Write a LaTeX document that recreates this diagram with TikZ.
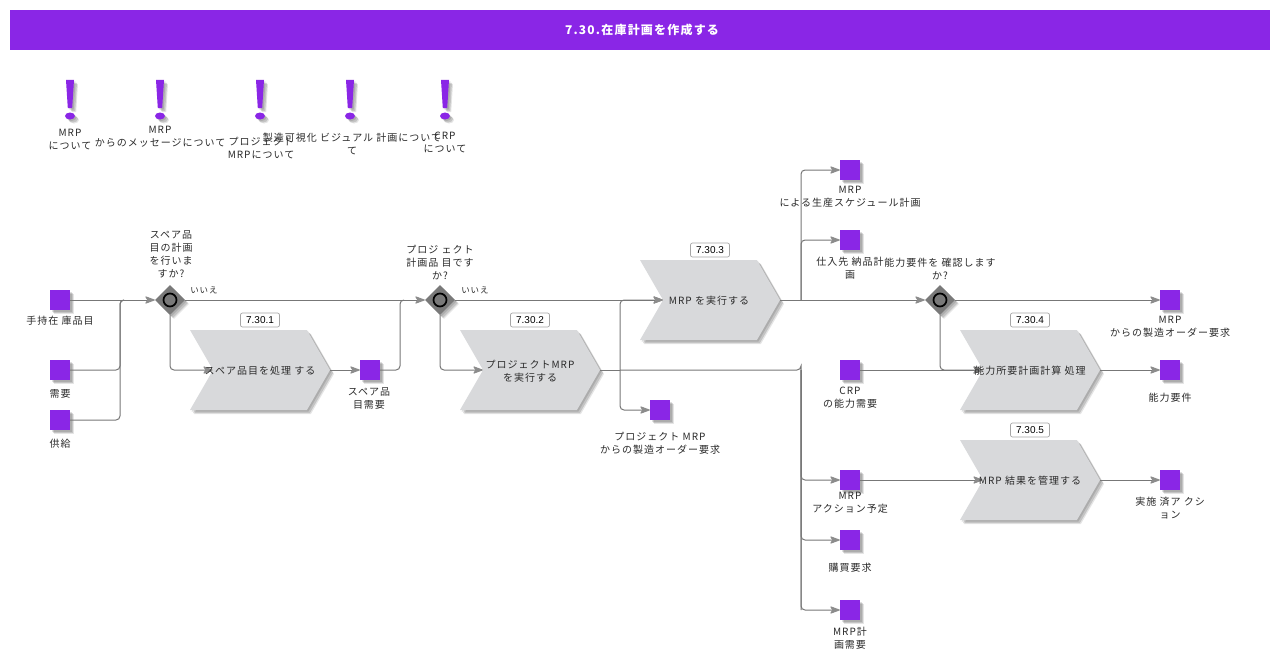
\documentclass[tikz,border=0pt]{standalone}
\usepackage{fontspec}
\setmainfont[LetterSpace=10]{Noto Sans CJK JP}
\newfontfamily\vernum{Liberation Sans}
\usetikzlibrary{arrows.meta,shadows,shapes.symbols,shapes.geometric}
\definecolor{pur}{HTML}{8A26E6}
\definecolor{chv}{HTML}{D8D9DB}
\definecolor{lin}{HTML}{777777}
\definecolor{txt}{HTML}{2A2A2A}
\tikzset{
 soft/.style={drop shadow={shadow xshift=1.5pt,shadow yshift=-1.5pt,fill=black,opacity=.12},
              drop shadow={shadow xshift=3pt,shadow yshift=-3pt,fill=black,opacity=.14},
              drop shadow={shadow xshift=4pt,shadow yshift=-4pt,fill=black,opacity=.1}},
 sq/.style={rectangle,fill=pur,minimum size=20pt,inner sep=0,soft},
 gate/.style={diamond,fill=gray!95!black,minimum width=30pt,minimum height=30pt,inner sep=0,soft},
 ring/.style={circle,draw=black,line width=1.7pt,fill=gray!95!black,minimum size=13pt,inner sep=0},
 chev/.style={signal,signal from=west,signal to=east,signal pointer angle=120,fill=chv,
   minimum width=140pt,minimum height=80pt,inner sep=0,soft},
 lbl/.style={inner sep=0,yshift=-.7pt,text=txt,font=\fontsize{10pt}{13pt}\selectfont,align=center},
 small/.style={inner sep=0,text=txt,font=\fontsize{8.5pt}{9pt}\selectfont},
 ver/.style={rectangle,rounded corners=2pt,draw=gray!70,fill=white,line width=.7pt,minimum width=39pt,
   minimum height=14pt,inner sep=0,font=\vernum\fontsize{10pt}{12pt}\selectfont},
 conn/.style={draw=lin,line width=1pt,rounded corners=4pt},
 arr/.style={conn,-{Stealth[length=11pt,width=8pt,inset=2.5pt,fill=gray!90,color=gray!90,round=false]}},
 excl/.style={fill=pur,soft},
}
\newcommand{\exclam}[1]{%
 \path[excl] (#1-4,80) -- (#1+4,80) -- (#1+2.2,108) -- (#1-2.2,108) -- cycle;
 \path[excl] (#1,116) ellipse [x radius=5,y radius=3.5];}
\begin{document}
\begin{tikzpicture}[x=1pt,y=-1pt]
\useasboundingbox (0,0) rectangle (1280,661);
\path[fill=white] (0,0) rectangle (1280,661);
\node[rectangle,fill=pur,minimum width=1260pt,minimum height=40pt,inner sep=0,text=white,
  font=\fontsize{12pt}{14pt}\selectfont\bfseries] (title) at (640,30) {\hspace{4pt}7.30.在庫計画を作成する};
% exclamation marks
\exclam{70}\exclam{160}\exclam{260}\exclam{350}\exclam{445}
\node[lbl] (e1) at (70,139) {MRP\\について};
\node[lbl] (e2) at (160,136.5) {MRP\\からのメッセージについて};
\node[lbl] (e3) at (261,147) {プロジェクト\\MRPについて};
\node[lbl] (e4) at (352,143) {製造可視化 ビジュアル 計画について\\て};
\node[lbl] (e5) at (445,141.5) {CRP\\について};
% chevrons
\node[chev] (c1) at (260,370) {};
\node[chev] (c2) at (530,370) {};
\node[chev] (c3) at (710,300) {};
\node[chev] (c4) at (1030,370) {};
\node[chev] (c5) at (1030,480) {};
\node[ver] (v1) at (260,320) {7.30.1};
\node[ver] (v2) at (530,320) {7.30.2};
\node[ver] (v3) at (710,250) {7.30.3};
\node[ver] (v4) at (1030,320) {7.30.4};
\node[ver] (v5) at (1030,430) {7.30.5};
% squares
\node[sq] (stock) at (60,300) {};
\node[sq] (dem) at (60,370) {};
\node[sq] (sup) at (60,420) {};
\node[sq] (spare) at (370,370) {};
\node[sq] (porder) at (660,410) {};
\node[sq] (sched) at (850,170) {};
\node[sq] (vend) at (850,240) {};
\node[sq] (crp) at (850,370) {};
\node[sq] (act) at (850,480) {};
\node[sq] (buy) at (850,540) {};
\node[sq] (plan) at (850,610) {};
\node[sq] (morder) at (1170,300) {};
\node[sq] (cap) at (1170,370) {};
\node[sq] (done) at (1170,480) {};
% gateways
\node[gate] (g1) at (170,300) {};
\node[gate] (g2) at (440,300) {};
\node[gate] (g3) at (940,300) {};
\node[ring] (r1) at (170,300) {};
\node[ring] (r2) at (440,300) {};
\node[ring] (r3) at (940,300) {};
% junctions
\coordinate (j1) at (120,300);
\coordinate (j2) at (400,300);
\coordinate (j3) at (620,370);
\coordinate (bt) at (801,300);
\coordinate (bb) at (801,370);
% connectors
\draw[arr] (stock.east) -- (g1.west);
\draw[conn] (dem.east) -| (j1) -- ++(4,0);
\draw[conn] (sup.east) -| (j1) -- ++(4,0);
\draw[arr] (g1.east) -- (g2.west);
\draw[arr] (g1.south) |- (c1.west);
\draw[arr] (c1.east) -- (spare.west);
\draw[conn] (spare.east) -| (j2) -- ++(4,0);
\draw[arr] (g2.east) -- (c3.west);
\draw[arr] (g2.south) |- (c2.west);
\draw[conn] (c2.east) -- (j3);
\draw[arr] (j3) |- (c3.west);
\draw[arr] (j3) |- (porder.west);
\draw[arr] (c3.east) -- (g3.west);
\draw[arr] (bt) |- (sched.west);
\draw[arr] (bt) |- (vend.west);
\draw[conn] (j3) -| (bb) -- (801,610);
\draw[arr] (bb) |- (act.west);
\draw[arr] (bb) |- (buy.west);
\draw[arr] (bb) |- (plan.west);
\draw[arr] (g3.east) -- (morder.west);
\draw[arr] (g3.south) |- (c4.west);
\draw[arr] (crp.east) -- (c4.west);
\draw[arr] (c4.east) -- (cap.west);
\draw[arr] (act.east) -- (c5.west);
\draw[arr] (c5.east) -- (done.west);
% labels
\node[lbl] (t1) at (260,370) {スペア品目を処理 する};
\node[lbl] (t2) at (530,370.5) {プロジェクトMRP\\を実行する};
\node[lbl] (t3) at (709,300) {MRP を実行する};
\node[lbl] (t4) at (1030,370) {能力所要計画計算 処理};
\node[lbl] (t5) at (1030,480) {MRP 結果を管理する};
\node[lbl] (l1) at (60,320) {手持在 庫品目};
\node[lbl] (l2) at (60,393) {需要};
\node[lbl] (l3) at (60,443) {供給};
\node[lbl] (l4) at (171,254) {スペア品\\目の計画\\を行いま\\すか?};
\node[small] (n1) at (204,290) {いいえ};
\node[lbl] (l5) at (440,262) {プロジ ェクト\\計画品 目です\\か?};
\node[small] (n2) at (475,290) {いいえ};
\node[lbl] (l6) at (369,397.5) {スペア品\\目需要};
\node[lbl] (l7) at (660,443) {プロジェクト MRP\\からの製造オーダー要求};
\node[lbl] (l8) at (850,196.5) {MRP\\による生産スケジュール計画};
\node[lbl] (l9) at (850,267.5) {仕入先 納品計\\画};
\node[lbl] (l10) at (940,268.5) {能力要件を 確認します\\か?};
\node[lbl] (l11) at (1170,326.5) {MRP\\からの製造オーダー要求};
\node[lbl] (l12) at (850,396.5) {CRP\\の能力需要};
\node[lbl] (l13) at (1170,397) {能力要件};
\node[lbl] (l14) at (850,502.5) {MRP\\アクション予定};
\node[lbl] (l15) at (850,567) {購買要求};
\node[lbl] (l16) at (850,637.5) {MRP計\\画需要};
\node[lbl] (l17) at (1170,507.5) {実施 済ア クシ\\ョン};
\end{tikzpicture}
\end{document}
